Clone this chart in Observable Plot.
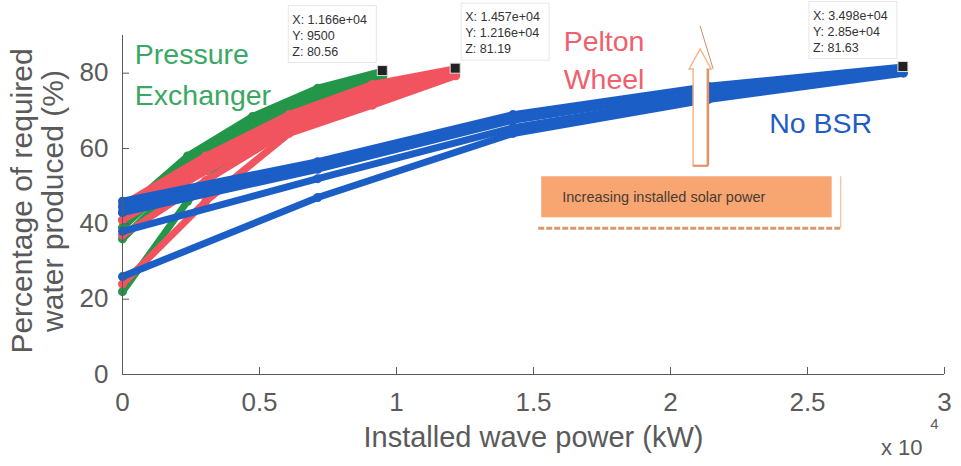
<!DOCTYPE html>
<html><head><meta charset="utf-8">
<script src="https://cdn.jsdelivr.net/npm/d3@7"></script>
<script src="https://cdn.jsdelivr.net/npm/@observablehq/plot@0.6"></script>
<style>body{margin:0;background:#fff} svg{display:block}</style>
</head><body><div id="chart"></div>
<script>
// ---- data ----
const families = ["Pressure Exchanger", "Pelton Wheel", "No BSR"];
const peX = [0, 2375, 4750, 7125, 9500];
const peY = [
  [43, 58, 68.5, 76, 80.56],
  [41, 56.5, 67.5, 75, 80.3],
  [39, 55, 66.5, 74, 80],
  [36, 53, 66, 73, 79.5],
  [22, 46, 64, 72, 79]
];
const pwX = [0, 3040, 6080, 9120, 12160];
const pwY = [
  [45, 58, 69, 77, 81.19],
  [43, 56, 67.5, 75.5, 80.8],
  [41, 54, 66, 74, 80.4],
  [37, 51.5, 65, 72.5, 79.9],
  [24, 46, 64, 71.5, 79.3]
];
const nbX = [0, 7125, 14250, 21375, 28500];
const nbY = [
  [46, 56.5, 69, 76.5, 81.63],
  [44.5, 55.5, 68.5, 76, 81.3],
  [43, 54.5, 67.5, 75.5, 81],
  [38, 52, 65.5, 74, 80.5],
  [26, 47, 64, 73, 80]
];
const xTicks = [0, 5000, 10000, 15000, 20000, 25000, 30000];
const xTickLabels = ["0", "0.5", "1", "1.5", "2", "2.5", "3"];
const yTicks = [0, 20, 40, 60, 80];
const tipTexts = [
  ["X: 1.166e+04", "Y: 9500", "Z: 80.56"],
  ["X: 1.457e+04", "Y: 1.216e+04", "Z: 81.19"],
  ["X: 3.498e+04", "Y: 2.85e+04", "Z: 81.63"]
];
const noteText = "Increasing installed solar power";

// ---- build table ----
const colors = {"Pressure Exchanger": "#23964a", "Pelton Wheel": "#f2545f", "No BSR": "#1b5ec6"};
const labelColors = {"Pressure Exchanger": "#3aa864", "Pelton Wheel": "#f0606c", "No BSR": "#1f5cc4"};
function build(fam, xs, ys) {
  const out = [];
  ys.forEach((row, k) => row.forEach((v, i) => out.push({family: fam, line: fam + k, x: xs[i], y: v})));
  return out;
}
const tables = [build(families[0], peX, peY), build(families[1], pwX, pwY), build(families[2], nbX, nbY)];
const ends = [
  {x: peX[peX.length - 1], y: peY[0][peY[0].length - 1]},
  {x: pwX[pwX.length - 1], y: pwY[0][pwY[0].length - 1]},
  {x: nbX[nbX.length - 1], y: nbY[0][nbY[0].length - 1]}
];

const font = "Liberation Sans, Arial, Helvetica, sans-serif";
const axisColor = "#5a5a5a";

const marks = [];
tables.forEach((t, i) => {
  const c = colors[families[i]];
  marks.push(Plot.line(t, {x: "x", y: "y", z: "line", stroke: c, strokeWidth: 7, strokeLinejoin: "round"}));
  marks.push(Plot.dot(t, {x: "x", y: "y", fill: c, r: 4.5}));
});
marks.push(
  Plot.ruleX([0], {stroke: axisColor, strokeWidth: 1}),
  Plot.ruleY([0], {stroke: axisColor, strokeWidth: 1}),
  Plot.axisX({ticks: xTicks, tickFormat: (d) => xTickLabels[xTicks.indexOf(d)], tickSize: -7, tickPadding: 25, fontSize: 26, color: axisColor, label: null}),
  Plot.axisY({ticks: yTicks, tickSize: -7, tickPadding: 21, fontSize: 26, color: axisColor, label: null}),
  Plot.text(["Percentage of required\nwater produced (%)"], {frameAnchor: "left", textAnchor: "middle", dx: -85, dy: -4, rotate: -90, fontSize: 30, lineHeight: 1.05, fill: axisColor, text: d => d}),
  Plot.text(["Installed wave power (kW)"], {frameAnchor: "bottom", dy: 72, fontSize: 29, fill: axisColor, text: d => d}),
  Plot.text(["x 10"], {frameAnchor: "bottom-right", dx: -22, dy: 80, textAnchor: "end", fontSize: 22, fill: axisColor, text: d => d}),
  Plot.text(["4"], {frameAnchor: "bottom-right", dx: -6, dy: 54, textAnchor: "end", fontSize: 15, fill: axisColor, text: d => d}),
  Plot.text(["Pressure", "Exchanger"], {x: 450, y: [84.9, 73.9], textAnchor: "start", fontSize: 28.5, fill: labelColors[families[0]], text: d => d}),
  Plot.text(["Pelton", "Wheel"], {x: 16100, y: [88.3, 78.1], textAnchor: "start", fontSize: 28.5, fill: labelColors[families[1]], text: d => d}),
  Plot.text(["No BSR"], {x: 23600, y: 66.5, textAnchor: "start", fontSize: 28.5, fill: labelColors[families[2]], text: d => d})
);

const plot = Plot.plot({
  width: 961,
  height: 466,
  marginLeft: 122,
  marginRight: 17,
  marginTop: 35,
  marginBottom: 92,
  style: {fontFamily: font, background: "#fff", overflow: "visible"},
  x: {domain: [0, 30000]},
  y: {domain: [0, 90]},
  marks
});
document.getElementById("chart").appendChild(plot);

// ---- annotations (datatips, arrow, note box) ----
const sx = plot.scale("x").apply, sy = plot.scale("y").apply;
const svg = d3.select(plot);
const g = svg.append("g").attr("font-family", font).attr("text-anchor", "start");

// arrow anchored at wave power ~2.11e4
const ax = sx(21100), aTop = sy(86.3), aHeadBase = sy(81), aBot = sy(55.3);
g.append("line").attr("x1", ax).attr("y1", aTop - 23).attr("x2", ax + 13).attr("y2", aHeadBase)
  .attr("stroke", "#c9906e").attr("stroke-width", 1);
g.append("polygon")
  .attr("points", [[ax - 7, aBot], [ax - 7, aHeadBase], [ax - 11, aHeadBase], [ax, aTop], [ax + 11, aHeadBase], [ax + 7, aHeadBase], [ax + 7, aBot]].map(p => p.join(",")).join(" "))
  .attr("fill", "#fff").attr("stroke", "#f6b58c").attr("stroke-width", 1.5);
g.append("line").attr("x1", ax + 8).attr("y1", aHeadBase).attr("x2", ax + 8).attr("y2", aBot)
  .attr("stroke", "#e09060").attr("stroke-width", 2);
g.append("line").attr("x1", ax - 7).attr("y1", aBot).attr("x2", ax + 8).attr("y2", aBot)
  .attr("stroke", "#e09060").attr("stroke-width", 2);

// note box
const bx0 = sx(15300), bx1 = sx(25900), by0 = sy(52.5), by1 = sy(41.6);
g.append("line").attr("x1", bx0 - 3).attr("y1", by1 + 11).attr("x2", bx1 + 9).attr("y2", by1 + 11)
  .attr("stroke", "#d79a70").attr("stroke-width", 3).attr("stroke-dasharray", "6 2");
g.append("line").attr("x1", bx1 + 9).attr("y1", by0).attr("x2", bx1 + 9).attr("y2", by1 + 11)
  .attr("stroke", "#efc8ac").attr("stroke-width", 1.5);
g.append("rect").attr("x", bx0).attr("y", by0).attr("width", bx1 - bx0).attr("height", by1 - by0)
  .attr("fill", "#f7a672");
g.append("text").attr("x", bx0 + 21).attr("y", (by0 + by1) / 2 + 5).attr("font-size", 14.5)
  .attr("fill", "#4a3b32").text(noteText);

// datatips
const tipSide = [-1, 1, -1];
ends.forEach((e, i) => {
  const px = sx(e.x), py = sy(e.y);
  const w = 88, h = 57;
  const left = tipSide[i] < 0 ? px - 6 - w : px + 6;
  const top = py - 8 - h;
  g.append("rect").attr("x", left).attr("y", top).attr("width", w).attr("height", h)
    .attr("fill", "#fff").attr("stroke", "#e6e6e6").attr("stroke-width", 1);
  tipTexts[i].forEach((t, j) => {
    g.append("text").attr("x", left + 4).attr("y", top + 18 + j * 16).attr("font-size", 12.5)
      .attr("fill", "#333").text(t);
  });
  g.append("rect").attr("x", px - 5).attr("y", py - 5).attr("width", 10).attr("height", 10)
    .attr("fill", "#222").attr("stroke", "#ddd").attr("stroke-width", 1);
});
</script></body></html>
